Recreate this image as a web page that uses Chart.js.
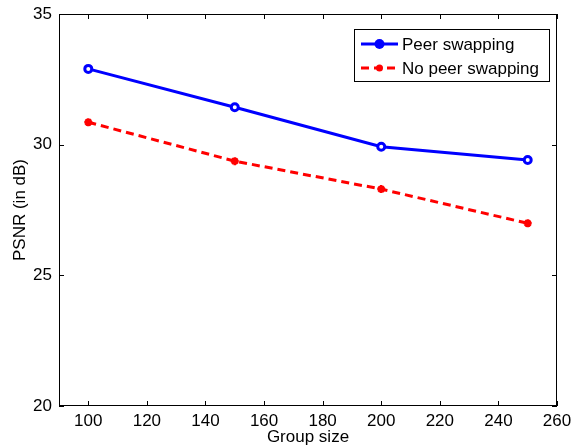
<!DOCTYPE html>
<html><head><meta charset="utf-8">
<script src="https://cdn.jsdelivr.net/npm/chart.js@4/dist/chart.umd.min.js"></script>
<style>html,body{margin:0;padding:0;background:#fff}#wrap{width:574px;height:448px}</style>
</head><body><div id="wrap"><canvas id="c" width="574" height="448"></canvas></div>
<script>
const groupSizes = [100, 150, 200, 250];
const peerSwapping = [32.9, 31.43, 29.92, 29.41];
const noPeerSwapping = [30.86, 29.37, 28.3, 26.99];
const xTicks = [100, 120, 140, 160, 180, 200, 220, 240, 260];
const yTicks = [20, 25, 30, 35];
const seriesNames = ['Peer swapping', 'No peer swapping'];
const FONT = 'Liberation Sans, Arial, sans-serif';
const FS = 17;

const frame = {
  id: 'frame',
  afterDatasetsDraw(chart) {
    const {ctx, chartArea: a, scales: {x, y}} = chart;
    ctx.save();
    ctx.strokeStyle = '#000'; ctx.lineWidth = 1;
    ctx.strokeRect(a.left + 0.5, a.top + 0.5, a.right - a.left - 1, a.bottom - a.top - 1);
    const L = 5;
    ctx.beginPath();
    xTicks.forEach(v => { const px = Math.round(x.getPixelForValue(v)) + 0.5;
      ctx.moveTo(px, a.bottom); ctx.lineTo(px, a.bottom - L);
      ctx.moveTo(px, a.top); ctx.lineTo(px, a.top + L); });
    yTicks.forEach(v => { const py = Math.round(y.getPixelForValue(v)) + 0.5;
      ctx.moveTo(a.left, py); ctx.lineTo(a.left + L, py);
      ctx.moveTo(a.right, py); ctx.lineTo(a.right - L, py); });
    ctx.stroke();
    // legend
    const bx = 354.5, by = 29.5, bw = 195, bh = 52;
    ctx.fillStyle = '#fff'; ctx.fillRect(bx, by, bw, bh);
    ctx.strokeRect(bx, by, bw, bh);
    chart.data.datasets.forEach((ds, i) => {
      const ly = 44 + i * 24;
      ctx.strokeStyle = ds.borderColor; ctx.lineWidth = 3;
      ctx.setLineDash(ds.borderDash || []);
      ctx.beginPath(); ctx.moveTo(361, ly); ctx.lineTo(398, ly); ctx.stroke();
      ctx.setLineDash([]);
      ctx.fillStyle = ds.borderColor;
      ctx.beginPath(); ctx.arc(379.5, ly, i === 0 ? 5 : 3.5, 0, Math.PI * 2); ctx.fill();
      ctx.fillStyle = '#000'; ctx.font = FS + 'px ' + FONT; ctx.textBaseline = 'middle';
      ctx.fillText(ds.label, 402, ly + 1);
    });
    ctx.restore();
  }
};

new Chart(document.getElementById('c'), {
  type: 'line',
  data: {
    datasets: [
      { label: seriesNames[0], data: groupSizes.map((g, i) => ({x: g, y: peerSwapping[i]})),
        borderColor: '#0000ff', backgroundColor: '#ffffff', borderWidth: 3,
        pointRadius: 3.5, pointBorderWidth: 3, pointBackgroundColor: '#ffffff', pointBorderColor: '#0000ff' },
      { label: seriesNames[1], data: groupSizes.map((g, i) => ({x: g, y: noPeerSwapping[i]})),
        borderColor: '#ff0000', backgroundColor: '#ff0000', borderWidth: 3, borderDash: [8, 5],
        pointStyle: 'star', pointRadius: 4, pointBorderWidth: 2.5, pointBorderColor: '#ff0000' }
    ]
  },
  options: {
    responsive: false, animation: false,
    layout: { padding: { top: 14, right: 17, left: 0, bottom: 0 } },
    plugins: { legend: { display: false }, tooltip: { enabled: false } },
    scales: {
      x: { type: 'linear', min: 90, max: 260,
        afterBuildTicks: s => { s.ticks = xTicks.map(v => ({value: v})); },
        afterFit: s => { s.height = 42; s.paddingLeft = 0; s.paddingRight = 0; },
        grid: { display: false, drawTicks: false }, border: { display: false },
        ticks: { color: '#000', font: { family: FONT, size: FS }, padding: 5, maxRotation: 0, autoSkip: false },
        title: { display: true, text: 'Group size', color: '#000', font: { family: FONT, size: FS }, padding: { top: 0, bottom: 0 } } },
      y: { min: 20, max: 35,
        afterBuildTicks: s => { s.ticks = yTicks.map(v => ({value: v})); },
        afterFit: s => { s.width = 59; s.paddingTop = 0; s.paddingBottom = 0; },
        grid: { display: false, drawTicks: false }, border: { display: false },
        ticks: { color: '#000', font: { family: FONT, size: FS }, padding: 7 },
        title: { display: true, text: 'PSNR (in dB)', color: '#000', font: { family: FONT, size: FS }, padding: { top: 10, bottom: 0 } } }
    }
  },
  plugins: [frame]
});
</script></body></html>
